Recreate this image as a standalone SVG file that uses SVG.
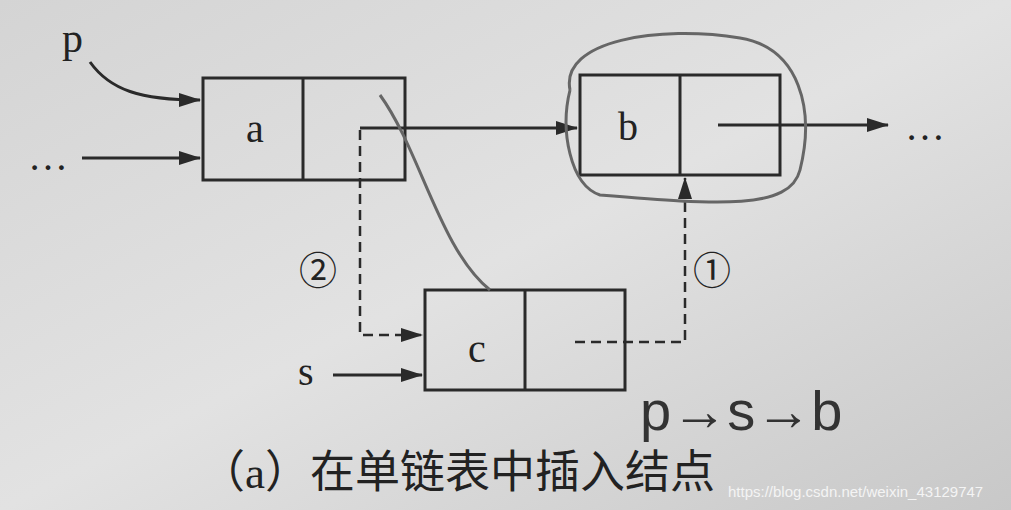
<svg xmlns="http://www.w3.org/2000/svg" width="1011" height="510" viewBox="0 0 1011 510">
<style>
.box{fill:none;stroke:#2a2a2a;stroke-width:3}
.t{font-family:"Liberation Serif","Noto Sans CJK SC",serif;fill:#222}
.ln{fill:none;stroke:#2a2a2a;stroke-width:3}
.dash{fill:none;stroke:#2a2a2a;stroke-width:2.5;stroke-dasharray:10 6}
.pen{fill:none;stroke:#666;stroke-width:3}
</style>
<defs>
<marker id="ar" markerWidth="22" markerHeight="14" refX="21" refY="7" orient="auto" markerUnits="userSpaceOnUse" viewBox="0 0 22 14">
<path d="M0,0 L22,7 L0,14 Z" fill="#2a2a2a"/></marker>
<linearGradient id="bg" x1="0" y1="0" x2="1" y2="1"><stop offset="0" stop-color="#d4d4d4"/><stop offset="0.5" stop-color="#e2e2e2"/><stop offset="1" stop-color="#c8c8c8"/></linearGradient>
</defs>
<rect width="1011" height="510" fill="url(#bg)"/>
<g id="node-a"><rect class="box" x="203" y="78" width="202" height="102"/><line class="box" x1="303" y1="78" x2="303" y2="180"/><text class="t" x="255" y="142" font-size="40" text-anchor="middle">a</text></g>
<g id="node-b"><rect class="box" x="580" y="75" width="200" height="100"/><line class="box" x1="680" y1="75" x2="680" y2="175"/><text class="t" x="628" y="140" font-size="40" text-anchor="middle">b</text></g>
<g id="node-c"><rect class="box" x="425" y="290" width="200" height="100"/><line class="box" x1="525" y1="290" x2="525" y2="390"/><text class="t" x="477" y="362" font-size="40" text-anchor="middle">c</text></g>
<g id="labels">
<text class="t" x="62" y="52" font-size="42">p</text>
<text class="t" x="28" y="170" font-size="40">…</text>
<text class="t" x="905" y="140" font-size="40">…</text>
<text class="t" x="298" y="385" font-size="40">s</text>
<text class="t" x="318" y="284" font-size="38" text-anchor="middle">②</text>
<text class="t" x="712" y="284" font-size="38" text-anchor="middle">①</text>
<text class="t" x="200" y="488" font-size="45">（a）在单链表中插入结点</text>
<text x="728" y="497" font-size="15" font-family="Liberation Sans,sans-serif" fill="#f4f4f4">https://blog.csdn.net/weixin_43129747</text>
<text x="640" y="430" font-size="56" font-family="Liberation Sans,sans-serif" fill="#333">p→s→b</text>
</g>
<g id="connectors">
<path class="ln" d="M90,62 C110,90 140,100 200,100" marker-end="url(#ar)"/>
<line class="ln" x1="82" y1="158" x2="200" y2="158" marker-end="url(#ar)"/>
<line class="ln" x1="360" y1="128" x2="577" y2="128" marker-end="url(#ar)"/>
<line class="ln" x1="718" y1="125" x2="888" y2="125" marker-end="url(#ar)"/>
<path class="dash" d="M360,130 V335 H422" marker-end="url(#ar)"/>
<path class="dash" d="M575,342 H685 V178" marker-end="url(#ar)"/>
<line class="ln" x1="333" y1="375" x2="422" y2="375" marker-end="url(#ar)"/>
</g>
<g id="scribbles">
<path class="pen" d="M570,90 C560,40 660,25 740,38 C800,48 815,110 800,170 C790,210 720,205 600,195 C570,185 560,130 570,90"/>
<path class="pen" d="M380,95 C420,150 440,250 490,290"/>
</g>
</svg>
